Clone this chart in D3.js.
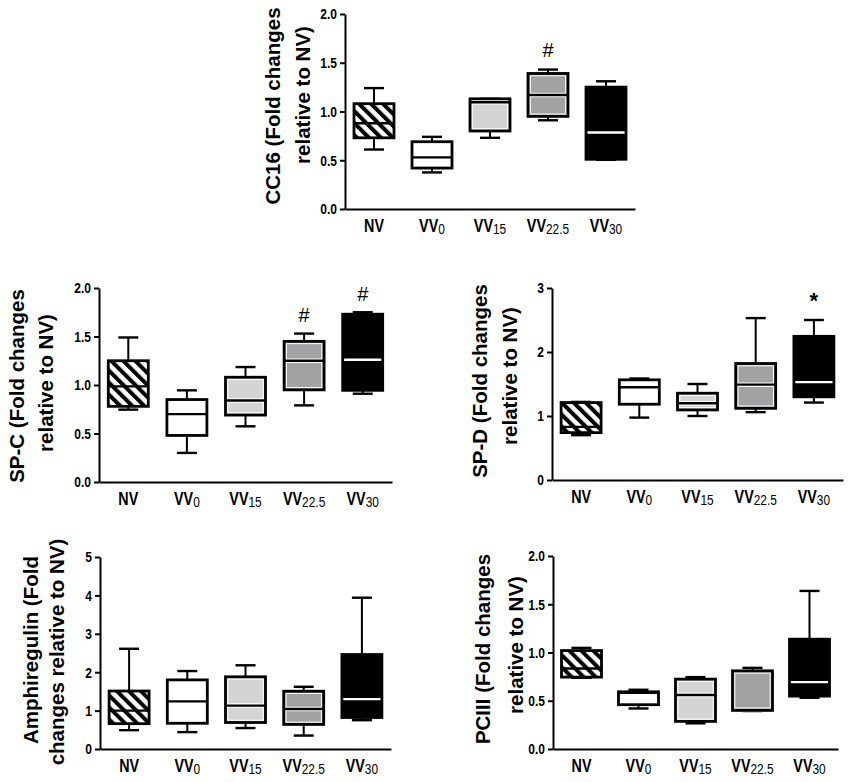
<!DOCTYPE html>
<html>
<head>
<meta charset="utf-8">
<script src="https://cdn.jsdelivr.net/npm/d3@7"></script>
<style>
  html, body { margin: 0; padding: 0; background: #fff; }
  svg { display: block; }
</style>
</head>
<body>
<svg id="chart" width="850" height="782"></svg>
<script>
// ---------------- DATA ----------------
const groups = ["NV", "VV0", "VV15", "VV22.5", "VV30"];
const groupMain = ["NV", "VV", "VV", "VV", "VV"];
const groupSub = ["", "0", "15", "22.5", "30"];

// each row: [min, q1, median, q3, max]
const cc16Stats = [
  [0.61, 0.73, 0.88, 1.08, 1.24],
  [0.375, 0.42, 0.53, 0.69, 0.74],
  [0.73, 0.80, 1.095, 1.13, 1.13],
  [0.91, 0.95, 1.17, 1.39, 1.43],
  [0.505, 0.51, 0.785, 1.25, 1.31]
];
const spcStats = [
  [0.746, 0.78, 0.986, 1.25, 1.49],
  [0.30, 0.48, 0.70, 0.85, 0.945],
  [0.574, 0.69, 0.84, 1.08, 1.185],
  [0.79, 0.95, 1.25, 1.45, 1.53],
  [0.91, 0.945, 1.26, 1.73, 1.75]
];
const spdStats = [
  [0.70, 0.74, 0.83, 1.21, 1.22],
  [0.975, 1.184, 1.45, 1.565, 1.586],
  [1.00, 1.095, 1.20, 1.356, 1.50],
  [1.06, 1.12, 1.49, 1.82, 2.53],
  [1.21, 1.30, 1.53, 2.245, 2.50]
];
const amphStats = [
  [0.49, 0.66, 1.0, 1.51, 2.61],
  [0.44, 0.67, 1.24, 1.80, 2.03],
  [0.545, 0.69, 1.13, 1.88, 2.18],
  [0.35, 0.64, 1.04, 1.505, 1.62],
  [0.75, 0.82, 1.30, 2.46, 3.94]
];
const pc3Stats = [
  [0.738, 0.745, 0.834, 1.02, 1.048],
  [0.42, 0.459, 0.583, 0.593, 0.614],
  [0.266, 0.286, 0.559, 0.724, 0.745],
  [0.393, 0.40, 0.405, 0.81, 0.841],
  [0.531, 0.548, 0.693, 1.138, 1.638]
];

// significance marks: [group, symbol, y-value of mark centre]
const cc16Marks = [["VV22.5", "#", 1.63]];
const spcMarks = [["VV22.5", "#", 1.72], ["VV30", "#", 1.94]];
const spdMarks = [["VV30", "*", 2.9]];
const amphMarks = [];
const pc3Marks = [];

const ticks2 = [0, 0.5, 1.0, 1.5, 2.0];
const ticks3 = [0, 1, 2, 3];
const ticks5 = [0, 1, 2, 3, 4, 5];

const cc16Title = ["CC16 (Fold changes", "relative to NV)"];
const spcTitle = ["SP-C (Fold changes", "relative to NV)"];
const spdTitle = ["SP-D (Fold changes", "relative to NV)"];
const amphTitle = ["Amphiregulin (Fold", "changes relative to NV)"];
const pc3Title = ["PCIII (Fold changes", "relative to NV)"];

// ---------------- STYLE / LAYOUT ----------------
const fills = ["url(#hatch)", "#ffffff", "#d4d4d4", "#a2a2a5", "#000000"];
const medianColors = ["#000", "#000", "#000", "#000", "#fff"];
const innerWhite = [false, false, true, true, false];

const SANS = "'Liberation Sans',Arial,sans-serif";

function condense(sel, f) {
  sel.each(function () {
    const L = this.getComputedTextLength();
    d3.select(this).attr("textLength", L * f).attr("lengthAdjust", "spacingAndGlyphs");
  });
}

const svg = d3.select("#chart");
const defs = svg.append("defs");
const pat = defs.append("pattern")
  .attr("id", "hatch")
  .attr("patternUnits", "userSpaceOnUse")
  .attr("width", 8.5).attr("height", 8.5)
  .attr("patternTransform", "rotate(-45)");
pat.append("rect").attr("width", 8.5).attr("height", 8.5).attr("fill", "#fff");
pat.append("rect").attr("width", 4).attr("height", 8.5).attr("fill", "#000");

const panels = [
  { stats: cc16Stats, marks: cc16Marks, ticks: ticks2, fmt: ".1f", title: cc16Title,
    x0: 345, w: 290, yTop: 14, yBot: 209, max: 2, t1: -65, t2: -35, c1: 106, c2: 95 },
  { stats: spcStats, marks: spcMarks, ticks: ticks2, fmt: ".1f", title: spcTitle,
    x0: 99, w: 293, yTop: 288, yBot: 482, max: 2, t1: -75, t2: -46, c1: 386, c2: 383 },
  { stats: spdStats, marks: spdMarks, ticks: ticks3, fmt: "d", title: spdTitle,
    x0: 552, w: 291, yTop: 288, yBot: 480, max: 3, t1: -65, t2: -35, c1: 381, c2: 376 },
  { stats: amphStats, marks: amphMarks, ticks: ticks5, fmt: "d", title: amphTitle,
    x0: 100, w: 291, yTop: 557, yBot: 749, max: 5, t1: -62, t2: -36, c1: 650, c2: 652 },
  { stats: pc3Stats, marks: pc3Marks, ticks: ticks2, fmt: ".1f", title: pc3Title,
    x0: 553, w: 285, yTop: 556, yBot: 749, max: 2, t1: -63, t2: -30, c1: 649, c2: 645 }
];

const BOX_W = 40, CAP_W = 20;

panels.forEach(p => {
  const g = svg.append("g");
  const x = d3.scaleBand().domain(groups).range([p.x0, p.x0 + p.w]).padding(0);
  const y = d3.scaleLinear().domain([0, p.max]).range([p.yBot, p.yTop]);

  // y axis
  const ya = g.append("g").attr("transform", `translate(${p.x0},0)`)
    .call(d3.axisLeft(y).tickValues(p.ticks).tickFormat(d3.format(p.fmt)).tickSize(5).tickSizeOuter(0).tickPadding(3));
  ya.select(".domain").attr("stroke", "#000").attr("stroke-width", 2);
  ya.selectAll(".tick line").attr("stroke", "#000").attr("stroke-width", 2);
  const tl = ya.selectAll(".tick text").attr("font-family", SANS).attr("font-weight", "bold")
    .attr("font-size", 15).attr("fill", "#000");
  condense(tl, 0.8);

  // x axis
  const xa = g.append("g").attr("transform", `translate(0,${p.yBot})`)
    .call(d3.axisBottom(x).tickSize(0).tickSizeOuter(0).tickFormat(""));
  xa.select(".domain").attr("stroke", "#000").attr("stroke-width", 2);
  xa.selectAll(".tick").remove();

  // category labels (horizontally condensed by a scale transform)
  groups.forEach((grp, i) => {
    const lg = g.append("g")
      .attr("transform", `translate(${x(grp) + x.bandwidth() / 2},${p.yBot + 23}) scale(0.82,1)`);
    const t = lg.append("text")
      .attr("x", 0).attr("y", 0)
      .attr("text-anchor", "middle")
      .attr("font-family", SANS).attr("fill", "#000");
    t.append("tspan").attr("font-weight", "bold").attr("font-size", 17.5).text(groupMain[i]);
    if (groupSub[i]) {
      t.append("tspan").attr("font-weight", "normal").attr("font-size", 14.5)
        .attr("dy", 1.5).text(groupSub[i]);
    }
  });

  // boxes
  p.stats.forEach((s, i) => {
    const cx = x(groups[i]) + x.bandwidth() / 2;
    const [mn, q1, md, q3, mx] = s;
    const bg = g.append("g");
    // whiskers
    bg.append("line").attr("x1", cx).attr("x2", cx).attr("y1", y(q3)).attr("y2", y(mx))
      .attr("stroke", "#000").attr("stroke-width", 2);
    bg.append("line").attr("x1", cx).attr("x2", cx).attr("y1", y(q1)).attr("y2", y(mn))
      .attr("stroke", "#000").attr("stroke-width", 2);
    bg.append("line").attr("x1", cx - CAP_W / 2).attr("x2", cx + CAP_W / 2).attr("y1", y(mx)).attr("y2", y(mx))
      .attr("stroke", "#000").attr("stroke-width", 2.4);
    bg.append("line").attr("x1", cx - CAP_W / 2).attr("x2", cx + CAP_W / 2).attr("y1", y(mn)).attr("y2", y(mn))
      .attr("stroke", "#000").attr("stroke-width", 2.4);
    // box
    bg.append("rect").attr("x", cx - BOX_W / 2).attr("y", y(q3))
      .attr("width", BOX_W).attr("height", y(q1) - y(q3))
      .attr("fill", fills[i]).attr("stroke", "none");
    if (innerWhite[i]) {
      bg.append("rect").attr("x", cx - BOX_W / 2 + 2.3).attr("y", y(q3) + 2.3)
        .attr("width", BOX_W - 4.6).attr("height", Math.max(0, y(q1) - y(q3) - 4.6))
        .attr("fill", "none").attr("stroke", "#fff").attr("stroke-width", 1);
      bg.append("line").attr("x1", cx - BOX_W / 2 + 2).attr("x2", cx + BOX_W / 2 - 2)
        .attr("y1", y(md)).attr("y2", y(md)).attr("stroke", "#fff").attr("stroke-width", 4.5);
    }
    bg.append("line").attr("x1", cx - BOX_W / 2).attr("x2", cx + BOX_W / 2)
      .attr("y1", y(md)).attr("y2", y(md)).attr("stroke", medianColors[i]).attr("stroke-width", 2.4);
    bg.append("rect").attr("x", cx - BOX_W / 2).attr("y", y(q3))
      .attr("width", BOX_W).attr("height", y(q1) - y(q3))
      .attr("fill", "none").attr("stroke", "#000").attr("stroke-width", 2.8);
  });

  // significance marks
  p.marks.forEach(m => {
    const cx = x(m[0]) + x.bandwidth() / 2;
    g.append("text").attr("x", cx).attr("y", y(m[2]))
      .attr("dy", m[1] === "*" ? "0.62em" : "0.36em")
      .attr("text-anchor", "middle")
      .attr("font-family", SANS)
      .attr("font-weight", m[1] === "*" ? "bold" : "normal")
      .attr("font-size", m[1] === "*" ? 22 : 20).attr("fill", "#000").text(m[1]);
  });

  // y title
  const offs = [p.t1, p.t2], cens = [p.c1, p.c2];
  p.title.forEach((line, k) => {
    const tx = p.x0 + offs[k], ty = cens[k];
    g.append("text").attr("transform", `translate(${tx},${ty}) rotate(-90)`)
      .attr("text-anchor", "middle")
      .attr("font-family", SANS).attr("font-weight", "bold").attr("font-size", 20.5)
      .attr("fill", "#000").text(line);
  });
});
</script>
</body>
</html>
